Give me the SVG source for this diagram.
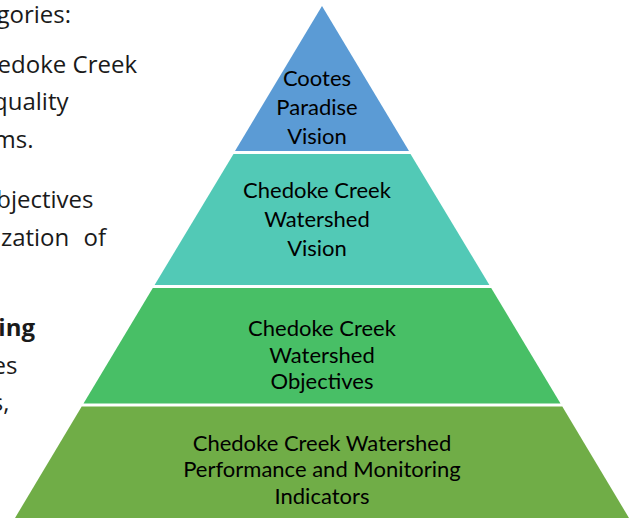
<svg xmlns="http://www.w3.org/2000/svg" width="636" height="518" viewBox="0 0 636 518">
<style>
.body{font-family:"Open Sans","Liberation Sans",sans-serif;font-size:24px;fill:#1a1a1a;text-anchor:end}
.b{font-weight:bold}
.lbl{font-family:Lato,"Liberation Sans",sans-serif;font-size:22px;fill:#000;text-anchor:middle}
</style>
<rect width="636" height="518" fill="#fff"/>
<g id="side-text">
<text class="body" x="71" y="22.5">gories:</text>
<text class="body" x="137" y="72.5">edoke Creek</text>
<text class="body" x="68.5" y="110">quality</text>
<text class="body" x="33.5" y="147.5">ms.</text>
<text class="body" x="93.5" y="208">bjectives</text>
<text class="body" x="106" y="245.5" word-spacing="8">ization of</text>
<text class="body b" x="35" y="336">ing</text>
<text class="body" x="17.5" y="373.5">es</text>
<text class="body" x="9.5" y="411">s,</text>
</g>
<g id="level1">
<polygon points="322,6 409,151 235,151" fill="#5B9BD5"/>
<text class="lbl" x="317" y="86">Cootes</text>
<text class="lbl" x="317" y="115">Paradise</text>
<text class="lbl" x="317" y="143.5">Vision</text>
</g>
<g id="level2">
<polygon points="233.5,154 410.5,154 489.4,285 154.6,285" fill="#52C9B6"/>
<text class="lbl" x="317" y="197.5">Chedoke Creek</text>
<text class="lbl" x="317" y="226.5">Watershed</text>
<text class="lbl" x="317" y="255.5">Vision</text>
</g>
<g id="level3">
<polygon points="152.8,288 491.2,288 560.5,403.5 83.5,403.5" fill="#48BF66"/>
<text class="lbl" x="322" y="336">Chedoke Creek</text>
<text class="lbl" x="322" y="362.5">Watershed</text>
<text class="lbl" x="322" y="388.5">Objectives</text>
</g>
<g id="level4">
<polygon points="81.7,406.5 562.3,406.5 629,518 15,518" fill="#70AD47"/>
<text class="lbl" x="322" y="450.5">Chedoke Creek Watershed</text>
<text class="lbl" x="322" y="477">Performance and Monitoring</text>
<text class="lbl" x="322" y="503.5">Indicators</text>
</g>
<g id="connectors"/>
</svg>
